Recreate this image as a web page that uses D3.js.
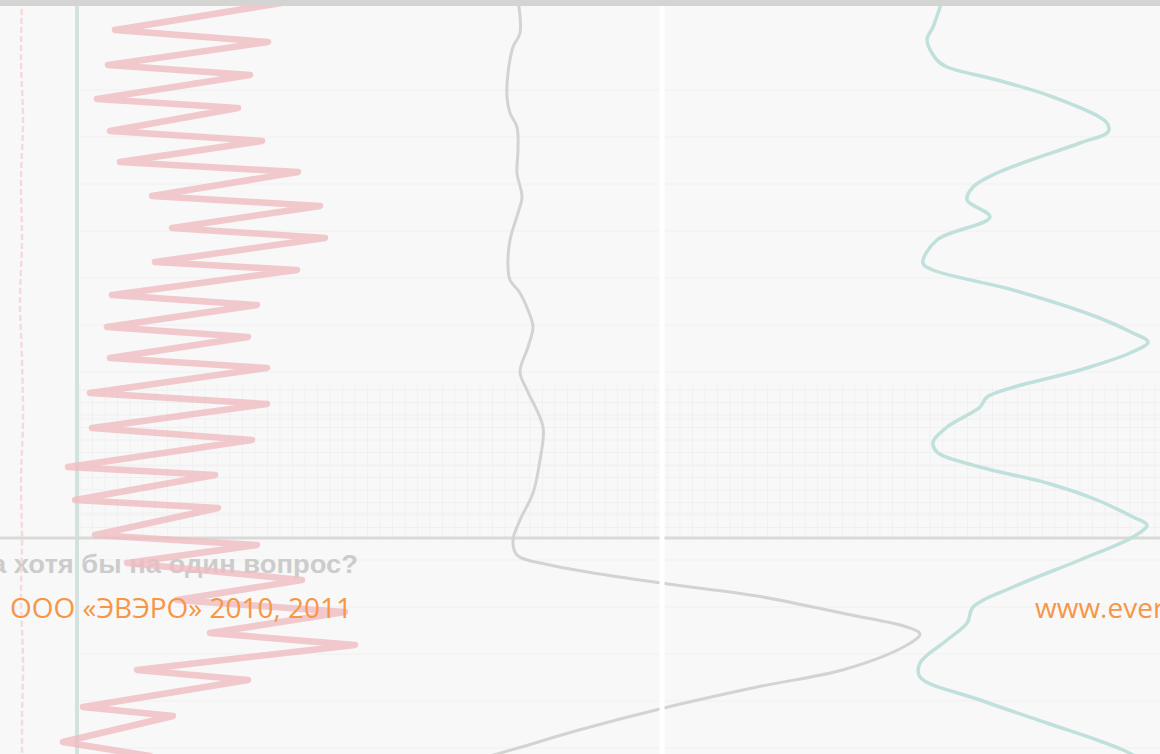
<!DOCTYPE html>
<html>
<head>
<meta charset="utf-8">
<script src="https://cdn.jsdelivr.net/npm/d3@7"></script>
<style>
  html, body { margin: 0; padding: 0; background: #f8f8f8; overflow: hidden; }
  svg { display: block; }
</style>
</head>
<body>
<div id="log-slide"></div>
<script>
// Width and height of the slide
var W = 1160, H = 754;

// depth, m
var depthTop = 2500, depthBottom = 2575.4;

// GR curve (pink zigzag)
var grDepth = [2500.0,2503.0,2504.2,2506.5,2507.5,2509.9,2510.8,2513.1,2514.1,2516.2,
  2517.2,2519.6,2520.6,2522.8,2523.8,2526.2,2527.0,2529.5,2530.5,2532.7,
  2533.7,2535.8,2536.8,2539.3,2540.4,2542.8,2544.0,2546.7,2547.5,2550.0,
  2550.8,2553.5,2554.5,2556.3,2558.0,2560.0,2561.2,2563.3,2564.5,2567.0,
  2568.0,2570.7,2571.6,2574.2,2575.6];
var grValue = [120,27.5,104,24,95,18.5,89,25,101,30,
  119,46,130,56,132.5,47.5,118.5,26,98.5,23.5,
  94,25,103.5,15,103.5,16,96,4,77.5,7.5,
  79,17.5,98.5,33.5,121,58.5,142.5,75,147.5,38.5,
  94,11.5,56.5,1.5,45];

// SP curve (grey)
var spDepth = [2500.0,2503.3,2504.7,2507.3,2509.7,2511.3,2512.7,2515.0,2517.3,2519.7,
  2521.3,2524.0,2526.7,2528.0,2529.3,2531.0,2532.7,2534.7,2537.2,2539.0,
  2542.7,2546.0,2549.3,2552.0,2554.0,2555.5,2556.5,2557.4,2558.4,2559.6,
  2561.4,2562.7,2563.4,2564.5,2566.9,2568.7,2570.7,2573.0,2574.8,2575.6];
var spValue = [3.6,4,2.6,1.6,1.4,2,3.4,3.6,3.4,4.4,
  3.6,2,1.6,2,4,5.6,6.6,5.6,4,5.4,
  8.6,8,6.6,4,2.6,3.4,10,20,33.6,51.4,
  69.2,81.4,84,81.4,69.2,51.4,33.6,15.8,3.6,-2];

// resistivity curve (teal)
var resDepth = [2500.0,2500.7,2502.7,2504.0,2506.0,2506.7,2508.0,2509.7,2512.3,2513.2,
  2514.3,2517.3,2518.7,2520.0,2521.7,2524.0,2526.3,2527.0,2529.0,2531.7,
  2533.3,2534.2,2535.3,2537.0,2539.7,2540.7,2542.7,2544.2,2545.2,2546.7,
  2548.3,2550.0,2551.7,2552.5,2553.7,2556.0,2558.7,2560.7,2562.3,2564.0,
  2566.3,2567.7,2570.0,2572.3,2574.0,2575.0,2575.6];
var resValue = [16.2,15.4,12.7,10.4,14.2,18.1,37.3,58.8,79.6,80,
  69.2,37.3,28.1,25.8,34.6,14.2,8.8,12.7,43.5,75.8,
  89.6,95.4,88.5,69.2,33.5,30.8,18.1,12.7,14.2,30.8,
  56.5,75.8,89.6,95,89.6,69.2,43.5,28.1,25.8,18.1,
  7.7,7.7,30.8,56.5,75.8,85.8,90.4];

// caliper (faint pink at left edge)
var calDepth = [2500,2506,2512,2518,2524,2530,2536,2542,2548,2554,2560,2566,2572,2575.4];
var calValue = [5,4,6,4,5,3,5,6,4,5,4,6,5,5];

// captions
var questionText = "а хотя бы на один вопрос?";
var copyrightText = "ООО «ЭВЭРО» 2010, 2011";
var siteText = "www.evero.ru";

//Create SVG
var svg = d3.select("#log-slide")
  .append("svg")
  .attr("width", W)
  .attr("height", H);

svg.append("rect").attr("width", W).attr("height", H).attr("fill", "#f8f8f8");

// scales
var y = d3.scaleLinear().domain([depthTop, depthBottom]).range([0, H]);
var xGr = d3.scaleLinear().domain([0, 150]).range([60, 360]);
var xSp = d3.scaleLinear().domain([0, 100]).range([500, 1000]);
var xRes = d3.scaleLinear().domain([0, 100]).range([900, 1160]);
var xCal = d3.scaleLinear().domain([0, 10]).range([17, 27]);

// faint coarse grid
var coarseY = d3.range(2509, 2575, 4.7);
svg.append("g").selectAll("line")
  .data(coarseY).enter().append("line")
  .attr("x1", 80).attr("x2", W)
  .attr("y1", d => y(d)).attr("y2", d => y(d))
  .attr("stroke", "#f4f4f4").attr("stroke-width", 2);

// fine grid (lower part)
var fineY = d3.range(2539, 2553.6, 1.25);
var fineX = d3.range(-84, 132, 2.5);
var fine = svg.append("g");
fine.selectAll("line.h")
  .data(fineY).enter().append("line")
  .attr("class", "h")
  .attr("x1", 80).attr("x2", W)
  .attr("y1", d => y(d)).attr("y2", d => y(d))
  .attr("stroke", "#f0f0f0").attr("stroke-width", 1);
fine.selectAll("line.v")
  .data(fineX).enter().append("line")
  .attr("class", "v")
  .attr("x1", d => xSp(d)).attr("x2", d => xSp(d))
  .attr("y1", y(2538.5)).attr("y2", y(2553.8))
  .attr("stroke", "#f1f1f1").attr("stroke-width", 1);

// track borders
svg.append("line")
  .attr("x1", 77).attr("x2", 77).attr("y1", 0).attr("y2", H)
  .attr("stroke", "#d2e2de").attr("stroke-width", 4);

svg.append("line")
  .attr("x1", 0).attr("x2", W).attr("y1", y(2553.8)).attr("y2", y(2553.8))
  .attr("stroke", "#d9d9d7").attr("stroke-width", 3);

// question caption (under the curves)
svg.append("text")
  .attr("x", -9).attr("y", 573)
  .attr("textLength", 367)
  .attr("lengthAdjust", "spacingAndGlyphs")
  .style("font-family", "'Liberation Sans', Arial, sans-serif")
  .style("font-size", "26px")
  .style("font-weight", "bold")
  .attr("fill", "#cccccc")
  .text(questionText);

//line generator
function logLine(xs, depths) {
  return d3.line()
    .x((d, i) => xs(d))
    .y((d, i) => y(depths[i]));
}

// caliper
svg.append("path")
  .attr("d", logLine(xCal, calDepth).curve(d3.curveCatmullRom)(calValue))
  .attr("fill", "none")
  .attr("stroke", "#f5dadc")
  .attr("stroke-width", 2.5)
  .attr("stroke-dasharray", "6,3");

// GR
svg.append("path")
  .attr("d", logLine(xGr, grDepth)(grValue))
  .attr("fill", "none")
  .attr("stroke", "#efbcc0")
  .attr("stroke-opacity", 0.8)
  .attr("stroke-width", 6.5)
  .attr("stroke-linejoin", "round")
  .attr("stroke-linecap", "round");

// SP
svg.append("path")
  .attr("d", logLine(xSp, spDepth).curve(d3.curveCatmullRom.alpha(0.5))(spValue))
  .attr("fill", "none")
  .attr("stroke", "#d3d3d1")
  .attr("stroke-width", 3);

// resistivity
svg.append("path")
  .attr("d", logLine(xRes, resDepth).curve(d3.curveCatmullRom.alpha(0.5))(resValue))
  .attr("fill", "none")
  .attr("stroke", "#c0e0dc")
  .attr("stroke-width", 3.5)
  .attr("stroke-linejoin", "round");

// white divider
svg.append("line")
  .attr("x1", 662).attr("x2", 662).attr("y1", 0).attr("y2", H)
  .attr("stroke", "#ffffff").attr("stroke-width", 5);

// top band
svg.append("rect").attr("x", 0).attr("y", 0).attr("width", W).attr("height", 6).attr("fill", "#d4d4d2");

// footer
svg.append("text")
  .attr("x", 10).attr("y", 618)
  .attr("textLength", 342)
  .attr("lengthAdjust", "spacingAndGlyphs")
  .style("font-family", "'Open Sans', 'Noto Sans', sans-serif")
  .style("font-size", "28px")
  .attr("fill", "#f79646")
  .text(copyrightText);

svg.append("text")
  .attr("x", 1035).attr("y", 618)
  .style("font-family", "'Open Sans', 'Noto Sans', sans-serif")
  .style("font-size", "28px")
  .attr("fill", "#f79646")
  .text(siteText);
</script>
</body>
</html>
